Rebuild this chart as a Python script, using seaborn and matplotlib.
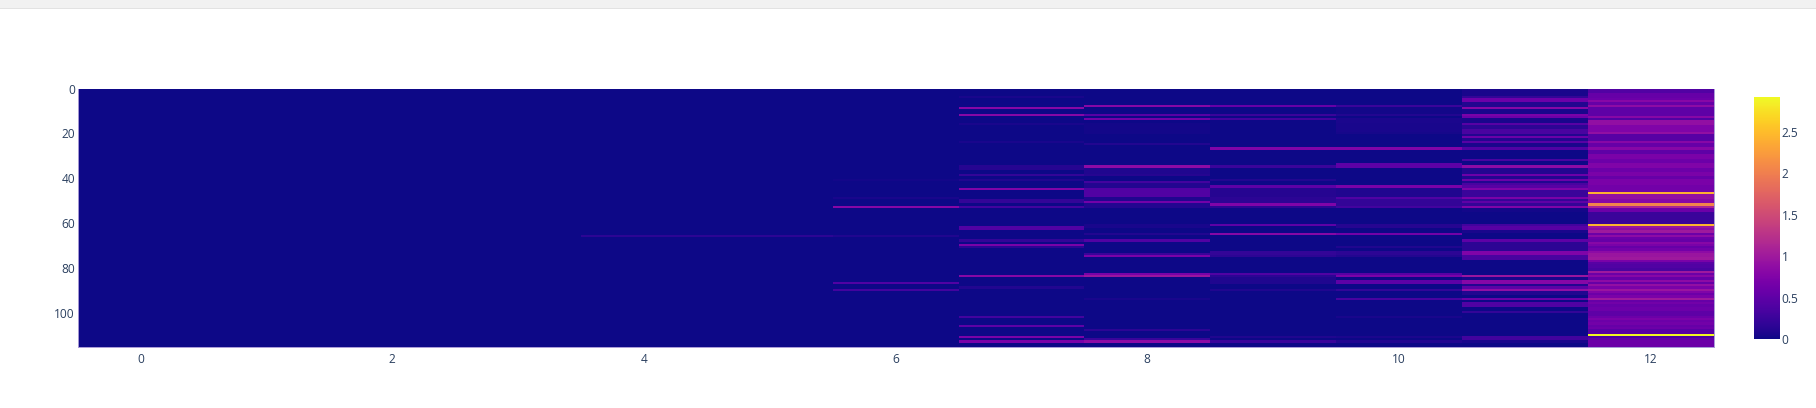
import numpy as np
import pandas as pd
import matplotlib
matplotlib.use("Agg")
import matplotlib.pyplot as plt
from matplotlib.patches import Rectangle
import seaborn as sns

# values, {row: value}, anything not listed is 0
col_4 = {65: 0.15}
col_5 = {65: 0.15}
col_6 = {40: 0.03, 48: 0.05, 52: 0.8, 65: 0.08, 86: 0.4, 89: 0.3}
col_7 = {3: 0.05, 8: 0.8, 11: 0.8, 15: 0.05, 23: 0.05, 34: 0.12, 35: 0.12, 38: 0.2, 40: 0.08,
         44: 0.75, 49: 0.2, 50: 0.2, 52: 0.3, 61: 0.4, 62: 0.4, 67: 0.2, 69: 0.7, 70: 0.15,
         83: 0.8, 88: 0.1, 101: 0.3, 105: 0.5, 110: 0.7, 112: 0.7}
col_8 = {7: 0.8, 11: 0.45, 13: 0.65, 15: 0.03, 16: 0.03, 17: 0.03, 18: 0.03, 19: 0.03, 24: 0.1,
         34: 0.85, 35: 0.08, 36: 0.08, 37: 0.08, 38: 0.12, 41: 0.3, 42: 0.1, 43: 0.1, 44: 0.4,
         45: 0.4, 46: 0.4, 47: 0.4, 48: 0.08, 49: 0.08, 50: 0.65, 51: 0.1, 52: 0.1, 60: 0.05,
         61: 0.05, 64: 0.1, 67: 0.4, 73: 0.25, 74: 0.7, 82: 0.7, 83: 0.95, 93: 0.05,
         107: 0.15, 111: 0.25, 112: 0.85}
col_9 = {7: 0.55, 11: 0.25, 13: 0.3, 26: 0.75, 34: 0.25, 40: 0.1, 43: 0.5, 44: 0.12, 45: 0.12,
         46: 0.12, 47: 0.12, 48: 0.15, 49: 0.15, 50: 0.15, 51: 0.75, 52: 0.15, 60: 0.5,
         64: 0.8, 72: 0.2, 73: 0.2, 74: 0.15, 82: 0.4, 83: 0.15, 84: 0.08, 85: 0.08, 86: 0.08,
         89: 0.08, 110: 0.08, 112: 0.25}
col_10 = {7: 0.25, 8: 0.03, 9: 0.03, 10: 0.03, 11: 0.1, 13: 0.06, 14: 0.06, 15: 0.05, 16: 0.05,
          17: 0.05, 18: 0.05, 19: 0.04, 26: 0.75, 33: 0.5, 34: 0.5, 43: 0.7, 44: 0.08, 45: 0.08,
          46: 0.08, 47: 0.08, 48: 0.4, 49: 0.2, 50: 0.2, 51: 0.2, 52: 0.3, 60: 0.12, 61: 0.12,
          64: 0.65, 70: 0.08, 72: 0.15, 73: 0.15, 74: 0.1, 82: 0.45, 83: 0.7, 85: 0.5, 86: 0.5,
          89: 0.2, 93: 0.35, 101: 0.05, 110: 0.06, 112: 0.1}
col_11 = {0: 0.05, 1: 0.05, 2: 0.05, 3: 0.2, 4: 0.6, 5: 0.6, 6: 0.1, 7: 0.1, 8: 0.8, 9: 0.05,
          10: 0.05, 11: 0.7, 12: 0.6, 13: 0.05, 14: 0.05, 15: 0.45, 16: 0.15, 17: 0.15, 18: 0.35,
          19: 0.35, 20: 0.1, 21: 0.6, 22: 0.1, 23: 0.45, 24: 0.05, 25: 0.05, 26: 0.4, 31: 0.35,
          34: 0.85, 35: 0.1, 36: 0.1, 37: 0.1, 38: 0.6, 39: 0.1, 40: 0.6, 41: 0.1, 42: 0.35,
          43: 0.45, 44: 0.75, 45: 0.25, 46: 0.25, 47: 0.25, 48: 0.7, 49: 0.2, 50: 0.5, 51: 0.2,
          52: 0.75, 53: 0.03, 54: 0.03, 60: 0.3, 61: 0.45, 62: 0.45, 63: 0.05, 67: 0.5, 68: 0.15,
          69: 0.15, 70: 0.15, 71: 0.15, 72: 0.75, 73: 0.75, 74: 0.35, 75: 0.35, 83: 0.95, 84: 0.05,
          85: 0.8, 86: 0.8, 87: 0.1, 88: 0.5, 89: 0.9, 90: 0.1, 91: 0.1, 93: 0.6, 95: 0.4, 96: 0.4,
          99: 0.2, 110: 0.3, 111: 0.3, 112: 0.05}
col_12 = [0.4, 0.4, 0.55, 0.55, 0.6, 0.8, 0.55, 0.85, 0.5, 0.5,
          0.5, 0.5, 0.8, 0.4, 0.9, 0.9, 0.75, 0.75, 0.75, 0.9,
          0.45, 0.45, 0.45, 0.8, 0.55, 0.55, 0.8, 0.5, 0.5, 0.7,
          0.7, 0.6, 0.6, 0.75, 0.75, 0.6, 0.6, 0.7, 0.7, 0.55,
          0.7, 0.7, 0.7, 0.65, 0.65, 0.65, 2.4, 0.9, 0.9, 0.8,
          0.8, 2.05, 1.1, 0.6, 0.6, 0.25, 0.25, 0.25, 0.25, 0.25,
          2.45, 0.95, 0.85, 1.0, 0.6, 0.85, 0.6, 0.55, 0.8, 0.7,
          0.55, 0.65, 0.85, 0.95, 0.95, 1.0, 0.7, 0.45, 0.4, 0.4,
          0.35, 1.0, 0.6, 0.8, 0.55, 0.85, 0.55, 0.9, 0.7, 0.95,
          0.75, 0.6, 0.7, 1.0, 0.55, 0.65, 0.55, 0.6, 0.6, 0.5,
          0.5, 0.6, 0.7, 0.6, 0.65, 0.55, 0.6, 0.45, 0.45, 2.92,
          0.35, 0.5, 0.6, 0.6, 0.6]

n_rows = 115
n_cols = 13
sparse_cols = {4: col_4, 5: col_5, 6: col_6, 7: col_7, 8: col_8, 9: col_9, 10: col_10, 11: col_11}

mat = np.zeros((n_rows, n_cols))
for c, vals in sparse_cols.items():
    for r, v in vals.items():
        mat[r, c] = v
mat[:, 12] = col_12
df = pd.DataFrame(mat)

sns.set_theme(style="white")
plt.rcParams['font.family'] = ['Open Sans', 'DejaVu Sans']

W, H = 1816, 408
fig = plt.figure(figsize=(W / 100, H / 100), dpi=100)
ax = fig.add_axes([77.7 / W, 1 - 347 / H, (1713.5 - 77.7) / W, (347 - 89) / H])
cax = fig.add_axes([1754 / W, 1 - 339 / H, 25.5 / W, 242 / H])

# grey strip left over from the screenshot at the very top
fig.patches.append(Rectangle((0, 1 - 8 / H), 1, 8 / H, transform=fig.transFigure, color='#f1f1f1', lw=0))
fig.patches.append(Rectangle((0, 1 - 9 / H), 1, 1 / H, transform=fig.transFigure, color='#e2e2e2', lw=0))

sns.heatmap(df, ax=ax, cbar_ax=cax, cmap='plasma', vmin=0, vmax=2.92,
            xticklabels=2, yticklabels=20)

tick_color = '#2a3f5f'
ax.tick_params(axis='x', length=0, pad=4, labelsize=8.6, labelcolor=tick_color, rotation=0)
ax.tick_params(axis='y', length=0, pad=2, labelsize=8.6, labelcolor=tick_color, rotation=0)
ax.set_xlabel('')
ax.set_ylabel('')

# soft edge the heatmap has on three sides
for side in ['left', 'right', 'bottom']:
    ax.spines[side].set_visible(True)
    ax.spines[side].set_color('#a99ad6')
    ax.spines[side].set_linewidth(0.7)

cbar = ax.collections[0].colorbar
cbar.set_ticks([0, 0.5, 1, 1.5, 2, 2.5])
cbar.set_ticklabels(['0', '0.5', '1', '1.5', '2', '2.5'])
cbar.ax.tick_params(length=0, pad=1.5, labelsize=8.6, labelcolor=tick_color)
cbar.outline.set_visible(False)

fig.savefig('out.png', dpi=100, facecolor='white')
